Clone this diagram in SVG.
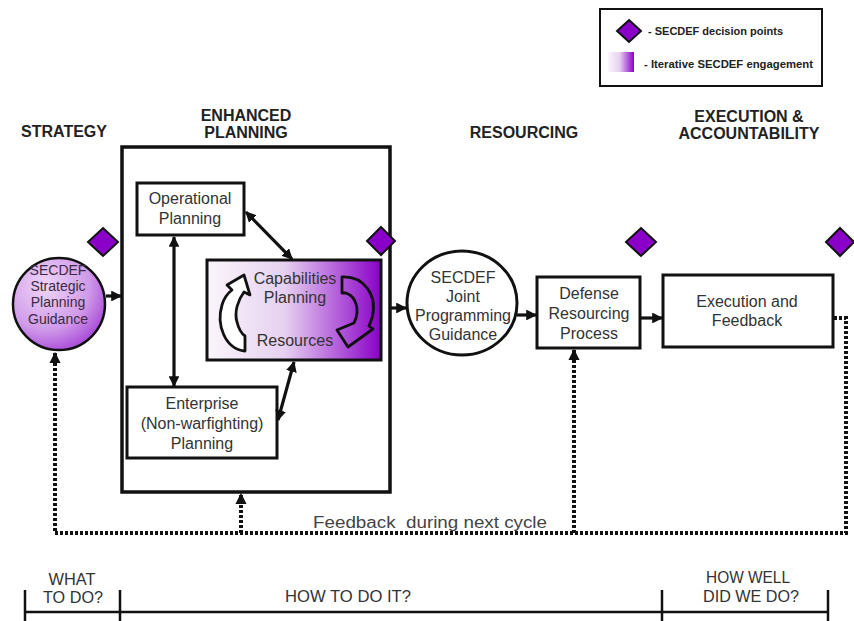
<svg xmlns="http://www.w3.org/2000/svg" width="854" height="621" viewBox="0 0 854 621">
<defs>
<style>
.h{font-family:"Liberation Sans",Arial,sans-serif;font-weight:bold;font-size:16px;fill:#222;text-anchor:middle}
.t{font-family:"Liberation Sans",Arial,sans-serif;font-size:16px;fill:#333;text-anchor:middle}
.ts{font-family:"Liberation Sans",Arial,sans-serif;font-size:14px;fill:#3a2a44;text-anchor:middle}
.lg{font-family:"Liberation Sans",Arial,sans-serif;font-weight:bold;font-size:10px;fill:#222}
.b{fill:#fff;stroke:#111;stroke-width:3}
.dia{fill:#8a00c8;stroke:#111;stroke-width:2}
.c{fill:none;stroke:#111;stroke-width:3.2}
.d{fill:none;stroke:#111;stroke-width:4;stroke-dasharray:3 2}
.tl{fill:none;stroke:#111;stroke-width:2.5}
</style>
<linearGradient id="gH" x1="0" y1="0" x2="1" y2="0">
<stop offset="0" stop-color="#faf6fb"/>
<stop offset="0.45" stop-color="#e6d0f0"/>
<stop offset="1" stop-color="#8a00c8"/>
</linearGradient>
<radialGradient id="gC" cx="0.35" cy="0.3" r="0.8">
<stop offset="0" stop-color="#efd6f8"/>
<stop offset="0.6" stop-color="#d09ae9"/>
<stop offset="1" stop-color="#a03ad6"/>
</radialGradient>
<marker id="ah" viewBox="0 0 10 10" refX="9" refY="5" markerWidth="3.4" markerHeight="3.4" orient="auto-start-reverse">
<path d="M0,0 L10,5 L0,10 z" fill="#111"/>
</marker>
<marker id="ahd" viewBox="0 0 10 10" refX="9" refY="5" markerWidth="2.8" markerHeight="2.8" orient="auto-start-reverse">
<path d="M0,0 L10,5 L0,10 z" fill="#111"/>
</marker>
</defs>

<g id="legend">
<rect x="600" y="9" width="222" height="77" fill="#fff" stroke="#111" stroke-width="2"/>
<polygon class="dia" points="629,20 641,31 629,42 617,31"/>
<text class="lg" x="648" y="35" textLength="135" lengthAdjust="spacingAndGlyphs">- SECDEF decision points</text>
<rect x="608" y="52" width="26" height="20" fill="url(#gH)"/>
<text class="lg" x="644" y="68" textLength="169" lengthAdjust="spacingAndGlyphs">- Iterative SECDEF engagement</text>
</g>

<g id="headings">
<text class="h" x="64" y="137">STRATEGY</text>
<text class="h" x="246" y="121">ENHANCED</text>
<text class="h" x="246" y="138">PLANNING</text>
<text class="h" x="524" y="138">RESOURCING</text>
<text class="h" x="749" y="122">EXECUTION &amp;</text>
<text class="h" x="749" y="139">ACCOUNTABILITY</text>
</g>

<g id="enhanced-planning-box">
<rect x="122" y="147" width="268" height="345" fill="none" stroke="#111" stroke-width="3.5"/>
</g>

<g id="strategic-guidance">
<circle cx="59" cy="304" r="46" fill="url(#gC)" stroke="#111" stroke-width="2.5"/>
<text class="ts" x="58" y="275">SECDEF</text>
<text class="ts" x="58" y="291">Strategic</text>
<text class="ts" x="58" y="307">Planning</text>
<text class="ts" x="58" y="324">Guidance</text>
</g>

<g id="operational-planning">
<rect class="b" x="137" y="183" width="107" height="52"/>
<text class="t" x="190" y="204">Operational</text>
<text class="t" x="190" y="224">Planning</text>
</g>

<g id="capabilities-planning">
<rect x="207" y="260" width="174" height="100" fill="url(#gH)" stroke="#111" stroke-width="3"/>
<text class="t" x="295" y="284">Capabilities</text>
<text class="t" x="295" y="303">Planning</text>
<text class="t" x="295" y="346">Resources</text>
<path d="M245 351 C225 349,216 325,222 305 C224 298,228 293,232 290 L227 285 L244 275 L250 295 L244 292 C238 300,234 312,237 322 C239 330,242 334,245 336 Z" fill="#fff" stroke="#111" stroke-width="2.8" stroke-linejoin="round"/>
<path d="M342 277 C364 276,378 295,372 318 L369 326 L373 329 L348 347 L337 330 L354 323 C360 311,357 297,346 293 L342 293 Z" fill="none" stroke="#111" stroke-width="2.8" stroke-linejoin="round"/>
</g>

<g id="enterprise-planning">
<rect class="b" x="127" y="387" width="150" height="71"/>
<text class="t" x="202" y="409">Enterprise</text>
<text class="t" x="202" y="429">(Non-warfighting)</text>
<text class="t" x="202" y="449">Planning</text>
</g>

<g id="joint-programming-guidance">
<ellipse cx="462" cy="303" rx="55" ry="52" fill="#fff" stroke="#111" stroke-width="3"/>
<text class="t" x="463" y="283">SECDEF</text>
<text class="t" x="463" y="302">Joint</text>
<text class="t" x="463" y="321">Programming</text>
<text class="t" x="463" y="340">Guidance</text>
</g>

<g id="defense-resourcing">
<rect class="b" x="537" y="277" width="103" height="71"/>
<text class="t" x="589" y="299">Defense</text>
<text class="t" x="589" y="319">Resourcing</text>
<text class="t" x="589" y="339">Process</text>
</g>

<g id="execution-feedback">
<rect class="b" x="663" y="275" width="170" height="72"/>
<text class="t" x="747" y="307">Execution and</text>
<text class="t" x="747" y="326">Feedback</text>
</g>

<g id="decision-points">
<polygon class="dia" points="103,228 118,242 103,256 88,242"/>
<polygon class="dia" points="381,227 395,241 381,255 367,241"/>
<polygon class="dia" points="641,228 656,242 641,256 626,242"/>
<polygon class="dia" points="840,228 854,242 840,256 826,242"/>
</g>

<g id="connectors">
<path class="c" d="M106 296 L121 296" marker-end="url(#ah)"/>
<path class="c" d="M174 237 L174 386" marker-start="url(#ah)" marker-end="url(#ah)"/>
<path class="c" d="M246 212 L292 259" marker-start="url(#ah)" marker-end="url(#ah)"/>
<path class="c" d="M278 420 L294 362" marker-start="url(#ah)" marker-end="url(#ah)"/>
<path class="c" d="M390 308 L406 308" marker-end="url(#ah)"/>
<path class="c" d="M517 315 L536 315" marker-end="url(#ah)"/>
<path class="c" d="M640 318 L662 318" marker-end="url(#ah)"/>
<path class="d" d="M834 318 L846 318 L846 533 L55 533 L55 353" marker-end="url(#ahd)"/>
<path class="d" d="M241 533 L241 494" marker-end="url(#ahd)"/>
<path class="d" d="M574 533 L574 350" marker-end="url(#ahd)"/>
<text class="t" x="430" y="528" xml:space="preserve" textLength="234" lengthAdjust="spacingAndGlyphs" style="fill:#444;white-space:pre">Feedback  during next cycle</text>
</g>

<g id="timeline">
<path class="tl" d="M25 612 L828 612 M25 590 L25 621 M120 590 L120 621 M662 590 L662 621 M828 590 L828 621"/>
<text class="t" x="72" y="585" textLength="47" lengthAdjust="spacingAndGlyphs">WHAT</text>
<text class="t" x="73" y="603" textLength="60" lengthAdjust="spacingAndGlyphs">TO DO?</text>
<text class="t" x="348" y="602" textLength="126" lengthAdjust="spacingAndGlyphs">HOW TO DO IT?</text>
<text class="t" x="748" y="583" textLength="84" lengthAdjust="spacingAndGlyphs">HOW WELL</text>
<text class="t" x="751" y="602" textLength="96" lengthAdjust="spacingAndGlyphs">DID WE DO?</text>
</g>
</svg>
